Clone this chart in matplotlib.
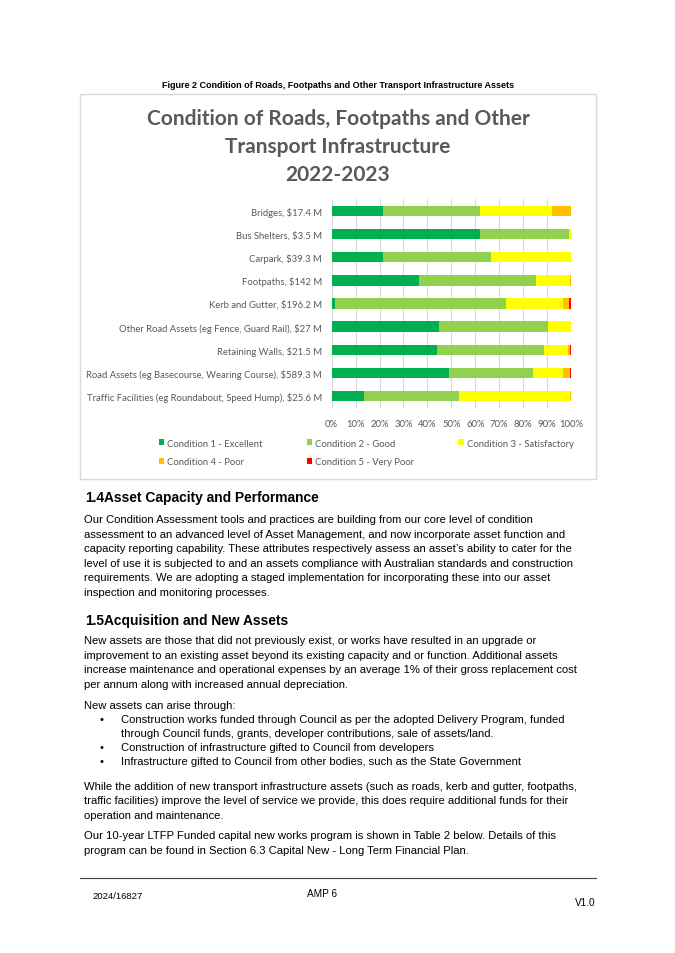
import numpy as np
import matplotlib
matplotlib.use("Agg")
import matplotlib.pyplot as plt
from matplotlib.patches import Rectangle
from matplotlib.lines import Line2D

# Datos del grafico (porcentaje por condicion)
categorias = [
    "Bridges, $17.4 M",
    "Bus Shelters, $3.5 M",
    "Carpark, $39.3 M",
    "Footpaths, $142 M",
    "Kerb and Gutter, $196.2 M",
    "Other Road Assets (eg Fence, Guard Rail), $27 M",
    "Retaining Walls, $21.5 M",
    "Road Assets (eg Basecourse, Wearing Course), $589.3 M",
    "Traffic Facilities (eg Roundabout, Speed Hump), $25.6 M",
]
cond1 = [21.6, 61.8, 21.3, 36.6, 1.4, 44.8, 44.0, 48.9, 13.6]
cond2 = [40.2, 37.5, 45.1, 48.8, 71.3, 45.5, 44.6, 35.4, 39.6]
cond3 = [30.4, 0.7, 33.6, 14.0, 24.1, 9.7, 10.1, 12.5, 46.5]
cond4 = [7.8, 0.0, 0.0, 0.6, 2.5, 0.0, 0.7, 2.8, 0.3]
cond5 = [0.0, 0.0, 0.0, 0.0, 0.7, 0.0, 0.6, 0.4, 0.0]
series_names = ["Condition 1 - Excellent", "Condition 2 - Good",
                "Condition 3 - Satisfactory", "Condition 4 - Poor",
                "Condition 5 - Very Poor"]
colores = ["#00B050", "#92D050", "#FFFF00", "#FFC000", "#FF0000"]
xticks = [0, 10, 20, 30, 40, 50, 60, 70, 80, 90, 100]

W, H = 675, 954
def fx(x):
    return x / W
def fy(y):
    return 1 - y / H

fig = plt.figure(figsize=(6.75, 9.54), dpi=100)
gris = "#595959"
chart_font = "Lato"
doc_font = "Liberation Sans"

# marco del grafico
fig.patches.append(Rectangle((fx(80), fy(480)), fx(596) - fx(80), fy(95) - fy(480),
                             transform=fig.transFigure, fill=False,
                             edgecolor="#d9d9d9", linewidth=1))

fig.text(fx(338), fy(86), "Figure 2 Condition of Roads, Footpaths and Other Transport Infrastructure Assets",
         ha="center", va="center", fontsize=6.5, fontweight="bold", family=doc_font)

titulo = ["Condition of Roads, Footpaths and Other", "Transport Infrastructure", "2022-2023"]
for i, t in enumerate(titulo):
    fig.text(fx(338), fy(119 + 28 * i), t, ha="center", va="center",
             fontsize=15, fontweight="bold", color=gris, family=chart_font)

ax = fig.add_axes([fx(331.7), fy(408.6), fx(571) - fx(331.7), fy(200.4) - fy(408.6)])
y = np.arange(len(categorias))
left = np.zeros(len(categorias))
handles = []
for vals, nombre, c in zip([cond1, cond2, cond3, cond4, cond5], series_names, colores):
    b = ax.barh(y, vals, left=left, height=0.45, color=c, label=nombre, zorder=3)
    handles.append(b)
    left += np.array(vals)

ax.set_xlim(0, 100)
ax.set_ylim(len(categorias) - 0.5, -0.5)
ax.set_yticks(y)
ax.set_yticklabels(categorias, fontsize=6.8, color=gris, family=chart_font)
ax.set_xticks(xticks)
ax.set_xticklabels([f"{v}%" for v in xticks], fontsize=6.8, color=gris, family=chart_font)
ax.tick_params(axis="y", length=0, pad=7)
ax.tick_params(axis="x", length=0, pad=8)
ax.grid(axis="x", color="#d9d9d9", linewidth=0.8, zorder=0)
for s in ax.spines.values():
    s.set_visible(False)

# orden por columnas para que la leyenda quede por filas como en Excel
orden = [0, 3, 1, 4, 2]
leg = fig.legend([handles[i] for i in orden], [series_names[i] for i in orden],
                 ncol=3, loc="upper left", bbox_to_anchor=(fx(154), fy(435)),
                 frameon=False, handlelength=0.6, handleheight=0.6,
                 handletextpad=0.3, columnspacing=4.65, labelspacing=1.0,
                 borderpad=0, prop={"family": chart_font, "size": 6.8})
for t in leg.get_texts():
    t.set_color(gris)

# texto del documento
body = 8.1
def linea(x, yy, s, **kw):
    fig.text(fx(x), fy(yy), s, ha="left", va="center", fontsize=kw.pop("fontsize", body),
             family=doc_font, **kw)

linea(85, 498, "1.4", fontsize=9.9, fontweight="bold")
linea(104, 498, "Asset Capacity and Performance", fontsize=9.9, fontweight="bold")
p1 = [
    "Our Condition Assessment tools and practices are building from our core level of condition",
    "assessment to an advanced level of Asset Management, and now incorporate asset function and",
    "capacity reporting capability. These attributes respectively assess an asset\u2019s ability to cater for the",
    "level of use it is subjected to and an assets compliance with Australian standards and construction",
    "requirements. We are adopting a staged implementation for incorporating these into our asset",
    "inspection and monitoring processes.",
]
for i, s in enumerate(p1):
    linea(84, 520 + 14.6 * i, s)

linea(85, 621, "1.5", fontsize=9.9, fontweight="bold")
linea(104, 621, "Acquisition and New Assets", fontsize=9.9, fontweight="bold")
p2 = [
    "New assets are those that did not previously exist, or works have resulted in an upgrade or",
    "improvement to an existing asset beyond its existing capacity and or function. Additional assets",
    "increase maintenance and operational expenses by an average 1% of their gross replacement cost",
    "per annum along with increased annual depreciation.",
]
for i, s in enumerate(p2):
    linea(84, 641 + 14.6 * i, s)
linea(84, 706, "New assets can arise through:")

bullets = [
    (720, "Construction works funded through Council as per the adopted Delivery Program, funded", True),
    (734, "through Council funds, grants, developer contributions, sale of assets/land.", False),
    (748, "Construction of infrastructure gifted to Council from developers", True),
    (762, "Infrastructure gifted to Council from other bodies, such as the State Government", True),
]
for yy, s, b in bullets:
    if b:
        linea(100, yy, "\u2022")
    linea(121, yy, s)

p3 = [
    "While the addition of new transport infrastructure assets (such as roads, kerb and gutter, footpaths,",
    "traffic facilities) improve the level of service we provide, this does require additional funds for their",
    "operation and maintenance.",
]
for i, s in enumerate(p3):
    linea(84, 787 + 14.3 * i, s)
p4 = [
    "Our 10-year LTFP Funded capital new works program is shown in Table 2 below. Details of this",
    "program can be found in Section 6.3 Capital New - Long Term Financial Plan.",
]
for i, s in enumerate(p4):
    linea(84, 836 + 14.6 * i, s)

# pie de pagina
fig.add_artist(Line2D([fx(80), fx(596)], [fy(879), fy(879)], transform=fig.transFigure,
                      color="#404040", linewidth=0.8))
fig.text(fx(92), fy(897), "2024/16827", ha="left", va="center", fontsize=6.8, family=doc_font)
fig.text(fx(322), fy(894), "AMP 6", ha="center", va="center", fontsize=7.2, family=doc_font)
fig.text(fx(596), fy(903), "V1.0", ha="right", va="center", fontsize=7.2, family=doc_font)

fig.savefig("out.png", dpi=100)
